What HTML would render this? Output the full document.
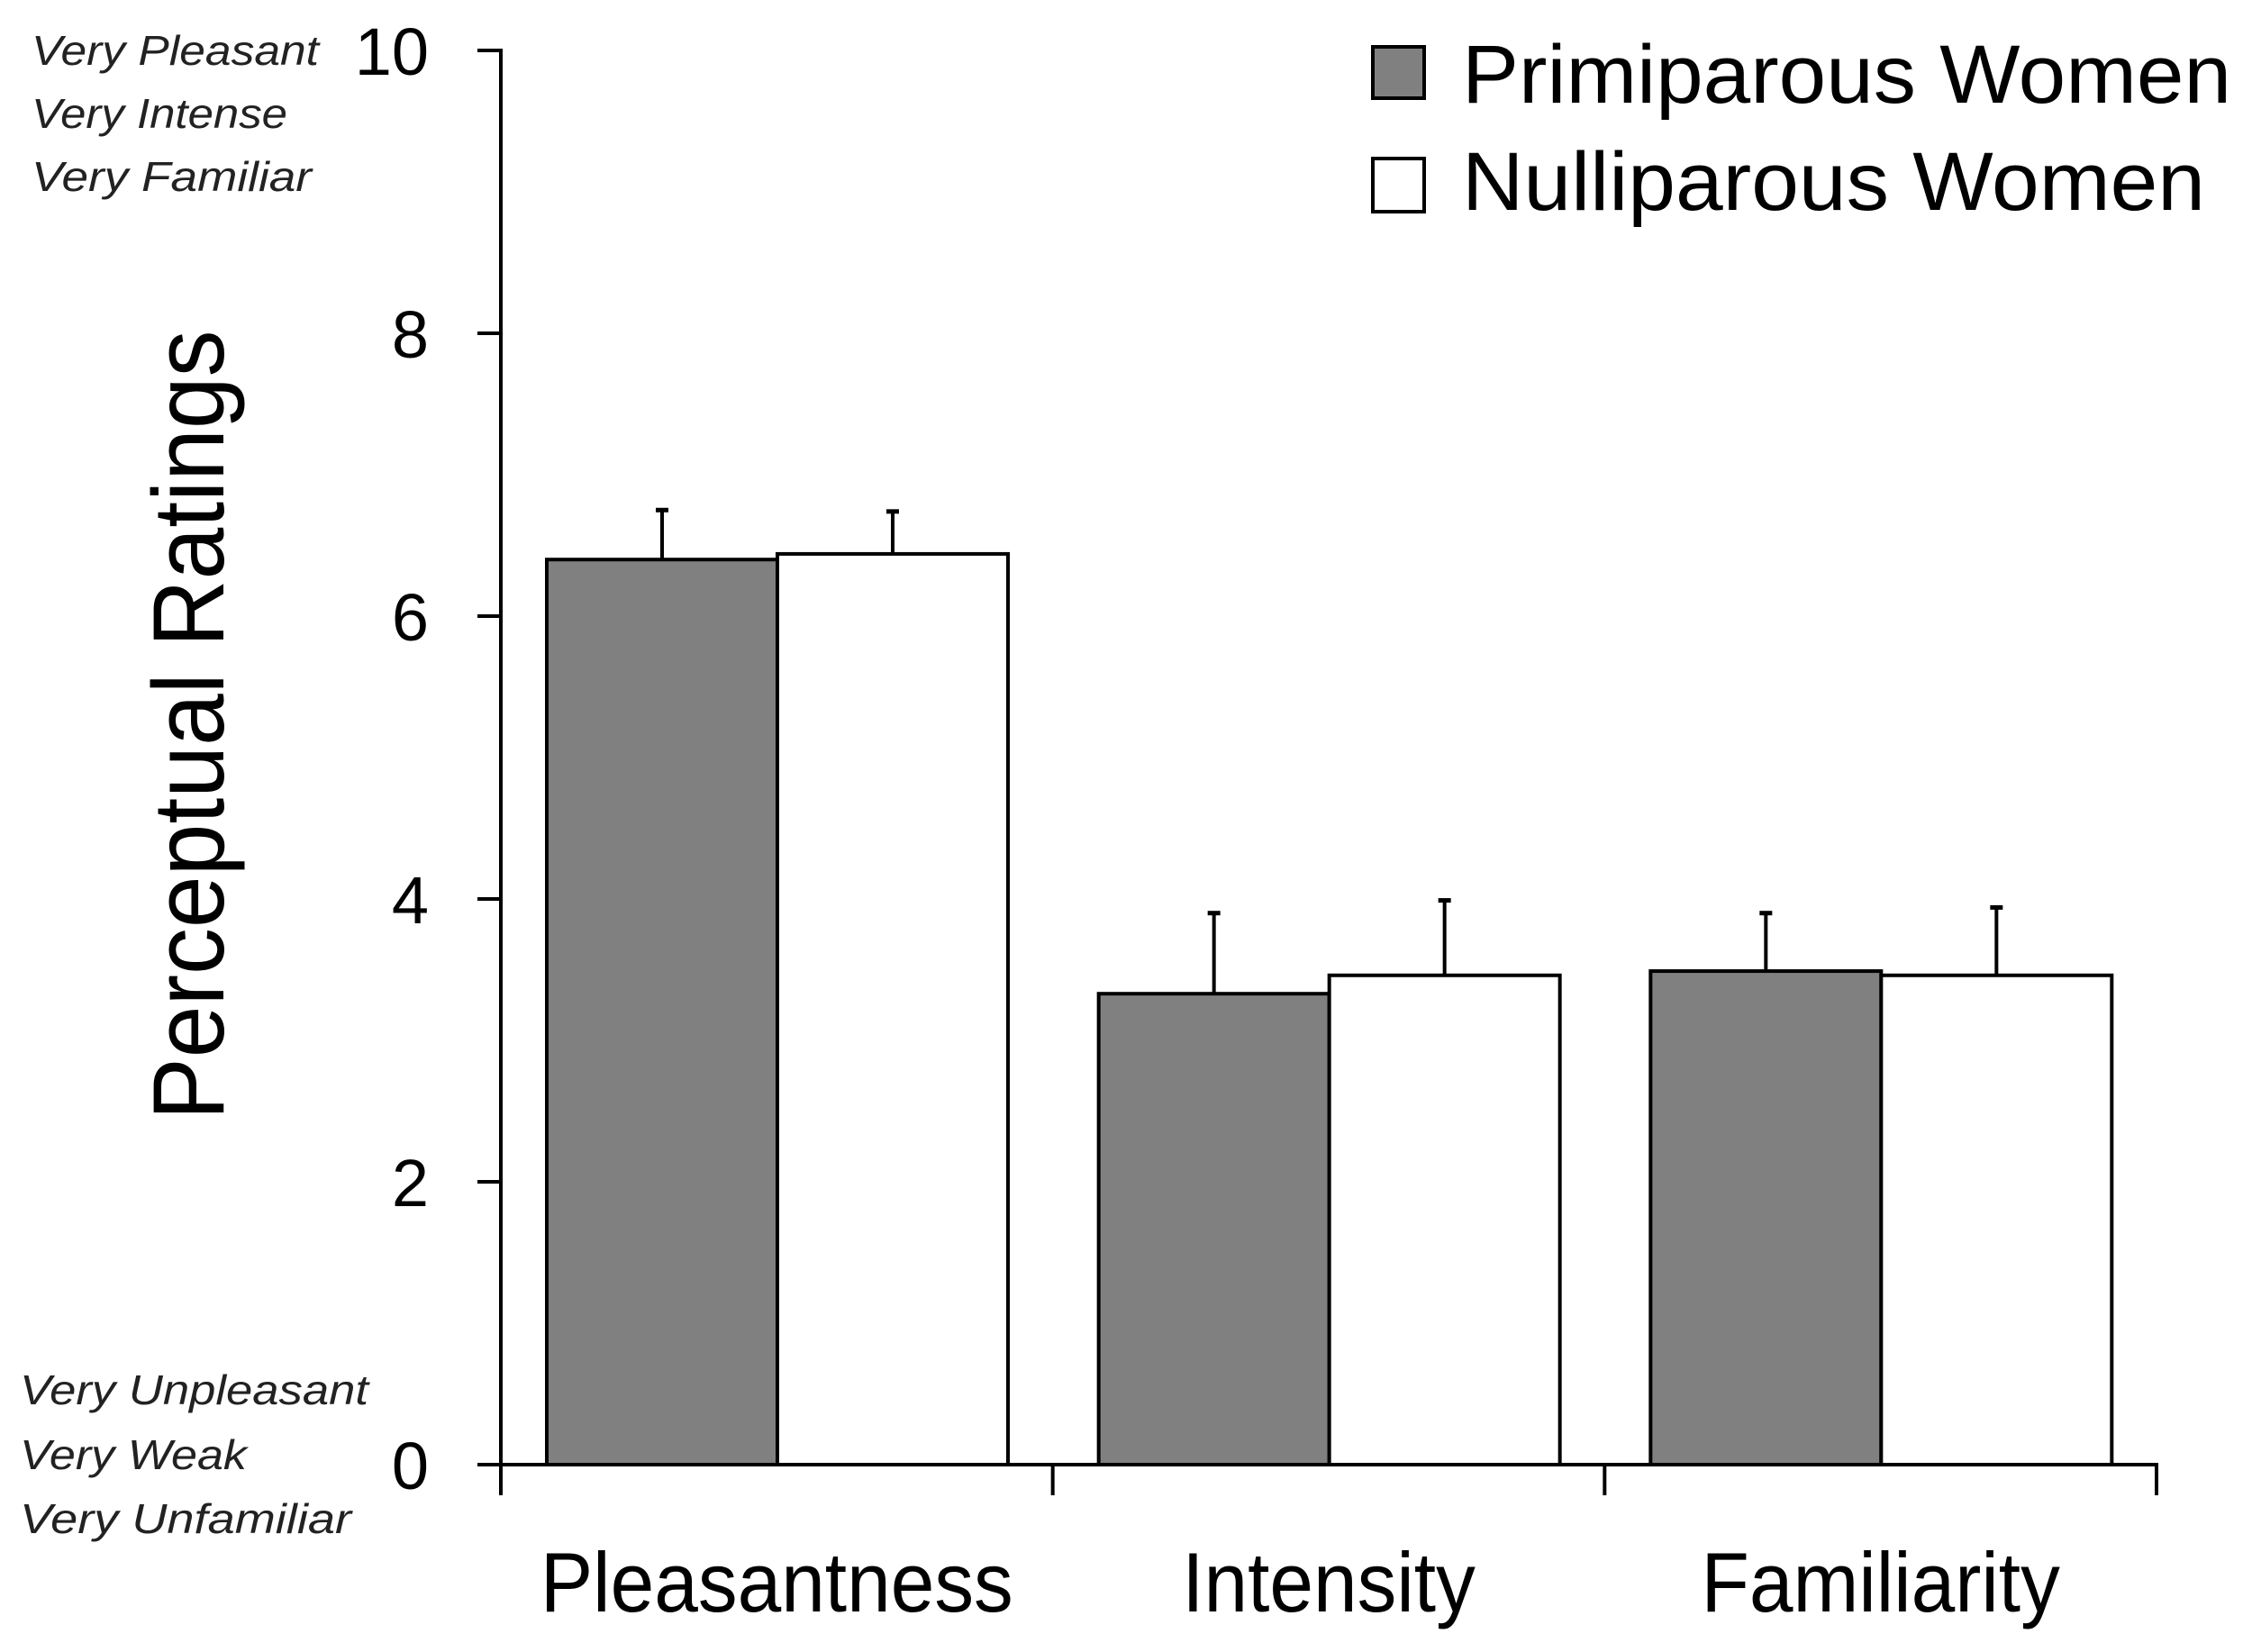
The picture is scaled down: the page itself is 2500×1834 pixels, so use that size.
<!DOCTYPE html>
<html><head><meta charset="utf-8"><style>html,body{margin:0;padding:0;background:#fff;}svg{display:block;}</style></head>
<body>
<svg id="chart" width="2500" height="1834" viewBox="0 0 2500 1834" xmlns="http://www.w3.org/2000/svg" font-family="'Liberation Sans', sans-serif">
<g id="grid"></g>
<g id="bars"></g>
<g id="axes"></g>
<text transform="translate(248,805) rotate(-90)" text-anchor="middle" font-size="112" textLength="877" lengthAdjust="spacingAndGlyphs">Perceptual Ratings</text>
<g font-style="italic" font-size="46" fill="#222">
<text x="35" y="72" textLength="319" lengthAdjust="spacingAndGlyphs">Very Pleasant</text>
<text x="35" y="142" textLength="284" lengthAdjust="spacingAndGlyphs">Very Intense</text>
<text x="35" y="212" textLength="311" lengthAdjust="spacingAndGlyphs">Very Familiar</text>
</g>
<g font-style="italic" font-size="46" fill="#222">
<text x="22" y="1559" textLength="387" lengthAdjust="spacingAndGlyphs">Very Unpleasant</text>
<text x="22" y="1631" textLength="252" lengthAdjust="spacingAndGlyphs">Very Weak</text>
<text x="22" y="1702" textLength="368" lengthAdjust="spacingAndGlyphs">Very Unfamiliar</text>
</g>
<g>
<rect x="1524" y="52" width="57" height="57" fill="#808080" stroke="#000" stroke-width="4"/>
<text x="1623" y="114" font-size="92" textLength="854" lengthAdjust="spacingAndGlyphs">Primiparous Women</text>
<rect x="1524" y="176" width="57" height="59" fill="#fff" stroke="#000" stroke-width="4"/>
<text x="1623" y="233" font-size="92" textLength="825" lengthAdjust="spacingAndGlyphs">Nulliparous Women</text>
</g>
<script>
const categories = ["Pleasantness", "Intensity", "Familiarity"];
const primiparous = [6.40, 3.33, 3.49];
const primiparousErr = [0.35, 0.57, 0.41];
const nulliparous = [6.44, 3.46, 3.46];
const nulliparousErr = [0.30, 0.53, 0.48];
const yTicks = [0, 2, 4, 6, 8, 10];

const NS = "http://www.w3.org/2000/svg";
const X0 = 556, X1 = 2394, Y0 = 1626, Y10 = 56;
const yScale = v => Y0 - (v / 10) * (Y0 - Y10);
const groupW = (X1 - X0) / categories.length;
const xGroup = i => X0 + i * groupW;
const barW = 256, barOff = 51;

function mk(tag, attrs, parent) {
  const el = document.createElementNS(NS, tag);
  for (const k in attrs) el.setAttribute(k, attrs[k]);
  parent.appendChild(el);
  return el;
}
const bars = document.getElementById('bars');
const axes = document.getElementById('axes');

const series = [[primiparous, primiparousErr, '#808080', 'primiparous'], [nulliparous, nulliparousErr, '#ffffff', 'nulliparous']];
categories.forEach((c, i) => {
  series.forEach((s, j) => {
    const v = s[0][i], e = s[1][i];
    const x = xGroup(i) + barOff + j * barW;
    const cx = x + barW / 2;
    const ln = mk('line', {x1: cx, x2: cx, y1: yScale(v), y2: yScale(v + e), stroke: '#000', 'stroke-width': 4}, bars);
    
    
    const cap = mk('line', {x1: cx - 7, x2: cx + 7, y1: yScale(v + e), y2: yScale(v + e), stroke: '#000', 'stroke-width': 5}, bars);
    
    
    const r = mk('rect', {x: x, y: yScale(v), width: barW, height: Y0 - yScale(v), fill: s[2], stroke: '#000', 'stroke-width': 4}, bars);
    
    
  });
  const t = mk('text', {x: xGroup(i) + groupW / 2, y: 1789, 'text-anchor': 'middle', 'font-size': 94}, axes);
  t.textContent = c;
  
  
  const w = t.getComputedTextLength();
  if (w > 0) {
    t.setAttribute('textLength', (w * 0.93).toFixed(1));
    t.setAttribute('lengthAdjust', 'spacingAndGlyphs');
  }
});

const ya = mk('line', {x1: X0, x2: X0, y1: Y10 - 2, y2: Y0 + 2, stroke: '#000', 'stroke-width': 4}, axes);


const xa = mk('line', {x1: X0 - 26, x2: X1 + 2, y1: Y0, y2: Y0, stroke: '#000', 'stroke-width': 4}, axes);


yTicks.forEach(v => {
  const tk = mk('line', {x1: X0 - 26, x2: X0, y1: yScale(v), y2: yScale(v), stroke: '#000', 'stroke-width': 4}, axes);
  
  
  const lb = mk('text', {x: 476, y: yScale(v) + 27, 'text-anchor': 'end', 'font-size': 74}, axes);
  lb.textContent = v;
  
  
});
for (let i = 0; i <= categories.length; i++) {
  const tk = mk('line', {x1: xGroup(i), x2: xGroup(i), y1: Y0, y2: Y0 + 34, stroke: '#000', 'stroke-width': 4}, axes);
  
  
}
</script>
</svg>
</body></html>
